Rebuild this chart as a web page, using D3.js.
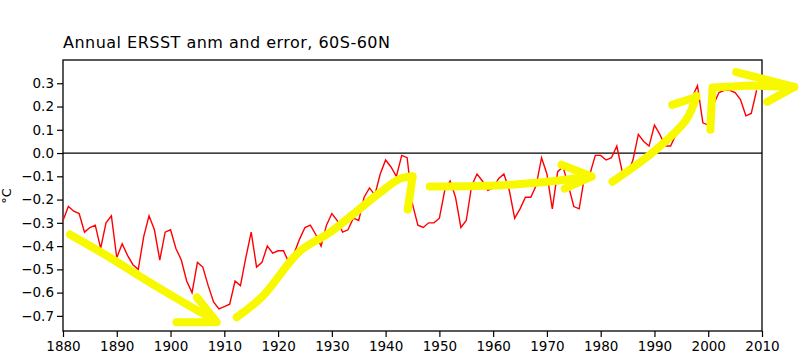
<!DOCTYPE html>
<html>
<head>
<meta charset="utf-8">
<script src="https://cdn.jsdelivr.net/npm/d3@7"></script>
<style>
  body { margin: 0; background: #fff; }
  text { font-family: "DejaVu Sans", sans-serif; fill: #000; }
</style>
</head>
<body>
<svg id="chart" width="800" height="363"></svg>
<script>
// annual anomalies
var years = d3.range(1880, 2010);
var anom = [
  -0.29, -0.23, -0.25, -0.26, -0.34, -0.32, -0.31, -0.41, -0.30, -0.27,
  -0.45, -0.39, -0.44, -0.48, -0.50, -0.36, -0.27, -0.33, -0.46, -0.34,
  -0.33, -0.41, -0.46, -0.55, -0.60, -0.47, -0.49, -0.57, -0.64, -0.67,
  -0.66, -0.65, -0.55, -0.57, -0.45, -0.34, -0.49, -0.47, -0.40, -0.43,
  -0.42, -0.42, -0.47, -0.43, -0.37, -0.32, -0.31, -0.35, -0.40, -0.31,
  -0.26, -0.29, -0.34, -0.33, -0.28, -0.29, -0.19, -0.15, -0.18, -0.09,
  -0.03, -0.06, -0.10, -0.01, -0.02, -0.22, -0.31, -0.32, -0.30, -0.30,
  -0.28, -0.16, -0.12, -0.19, -0.32, -0.29, -0.14, -0.09, -0.12, -0.16,
  -0.15, -0.11, -0.09, -0.16, -0.28, -0.24, -0.19, -0.19, -0.14, -0.02,
  -0.09, -0.24, -0.08, -0.06, -0.14, -0.23, -0.24, -0.10, -0.09, -0.01,
  -0.01, -0.03, -0.02, 0.03, -0.08, -0.09, -0.03, 0.08, 0.05, 0.03,
  0.12, 0.08, 0.03, 0.03, 0.08, 0.10, 0.13, 0.24, 0.29, 0.13,
  0.12, 0.21, 0.26, 0.27, 0.27, 0.26, 0.23, 0.16, 0.17, 0.27
];
var xTicks = d3.range(1880, 2011, 10);
var yTicks = [0.3, 0.2, 0.1, 0.0, -0.1, -0.2, -0.3, -0.4, -0.5, -0.6, -0.7];

// hand drawn yellow strokes, [year, value]
var stroke1 = [[1881.3, -0.350], [1888.7, -0.449], [1894.3, -0.530], [1900.4, -0.615], [1907.8, -0.714]];
var head1 = [[1901.1, -0.727], [1908.6, -0.727], [1904.9, -0.620]];
var stroke2 = [[1912.3, -0.706], [1917.1, -0.616], [1924.0, -0.423], [1929.6, -0.342], [1938.9, -0.171], [1942.6, -0.111], [1945.0, -0.101]];
var hook2 = [[1945.0, -0.101], [1944.6, -0.170], [1944.1, -0.243]];
var stroke3 = [[1948.2, -0.144], [1960.3, -0.140], [1968.6, -0.127], [1978.3, -0.101]];
var head3 = [[1972.7, -0.050], [1978.3, -0.101], [1973.3, -0.153]];
var stroke4 = [[1982.2, -0.123], [1989.6, 0.001], [1995.9, 0.143], [1997.8, 0.246]];
var tick4 = [[1993.3, 0.207], [1997.8, 0.241]];
var stroke5 = [[2000.4, 0.100], [2000.6, 0.200], [2000.8, 0.282], [2008.0, 0.290], [2016.0, 0.284]];
var head5 = [[2005.2, 0.348], [2016.0, 0.284], [2011.0, 0.220]];

var margin = { top: 60, right: 38, bottom: 32, left: 63 },
    width = 800 - margin.left - margin.right,
    height = 363 - margin.top - margin.bottom;

var svg = d3.select('#chart');
var g = svg.append('g')
    .attr('transform', 'translate(' + margin.left + ',' + margin.top + ')');

var x = d3.scaleLinear().domain([1880, 2010]).range([0, width]);
var y = d3.scaleLinear().domain([-0.765, 0.4]).range([height, 0]);

// frame
g.append('rect')
    .attr('width', width)
    .attr('height', height)
    .attr('fill', 'none')
    .attr('stroke', '#000')
    .attr('stroke-width', 1.3);

var xAxis = d3.axisBottom(x).tickValues(xTicks).tickFormat(d3.format('d')).tickSize(6).tickPadding(4);
var yAxis = d3.axisLeft(y).tickValues(yTicks).tickFormat(function(d) {
    return d3.format('.1f')(d).replace('-', '\u2212');
  }).tickSize(6).tickPadding(3);

g.append('g')
    .attr('transform', 'translate(0,' + height + ')')
    .call(xAxis)
    .call(function(a) { a.select('.domain').remove(); })
    .selectAll('text').style('font-size', '13.5px');

g.append('g')
    .call(yAxis)
    .call(function(a) { a.select('.domain').remove(); })
    .selectAll('text').style('font-size', '13.5px');

g.selectAll('.tick line').attr('stroke-width', 1.2);

// zero line
g.append('line')
    .attr('x1', 0).attr('x2', width)
    .attr('y1', y(0)).attr('y2', y(0))
    .attr('stroke', '#000')
    .attr('stroke-width', 1.2);

var line = d3.line()
    .x(function(d, i) { return x(years[i]); })
    .y(function(d) { return y(d); });

g.append('path')
    .datum(anom)
    .attr('d', line)
    .attr('fill', 'none')
    .attr('stroke', '#ff0000')
    .attr('stroke-width', 1.4);

// smooth strokes and straight strokes for the marker pen
var smoothPen = d3.line()
    .x(function(d) { return x(d[0]); })
    .y(function(d) { return y(d[1]); })
    .curve(d3.curveCatmullRom);
var straightPen = d3.line()
    .x(function(d) { return x(d[0]); })
    .y(function(d) { return y(d[1]); });

function drawMarker(list, pen) {
    g.selectAll(null)
        .data(list)
        .enter().append('path')
        .attr('d', pen)
        .attr('fill', 'none')
        .attr('stroke', '#f8f800')
        .attr('stroke-width', 8)
        .attr('stroke-linecap', 'round')
        .attr('stroke-linejoin', 'round');
}
drawMarker([stroke1, stroke2, stroke3, stroke4], smoothPen);
drawMarker([head1, hook2, head3, tick4, stroke5, head5], straightPen);

// title
svg.append('text')
    .attr('x', 63)
    .attr('y', 48)
    .attr('textLength', 327)
    .attr('lengthAdjust', 'spacing')
    .style('font-size', '16px')
    .text('Annual ERSST anm and error, 60S-60N');

// y label
svg.append('text')
    .attr('transform', 'translate(11,196) rotate(-90)')
    .attr('text-anchor', 'middle')
    .style('font-size', '13px')
    .text('°C');
</script>
</body>
</html>
